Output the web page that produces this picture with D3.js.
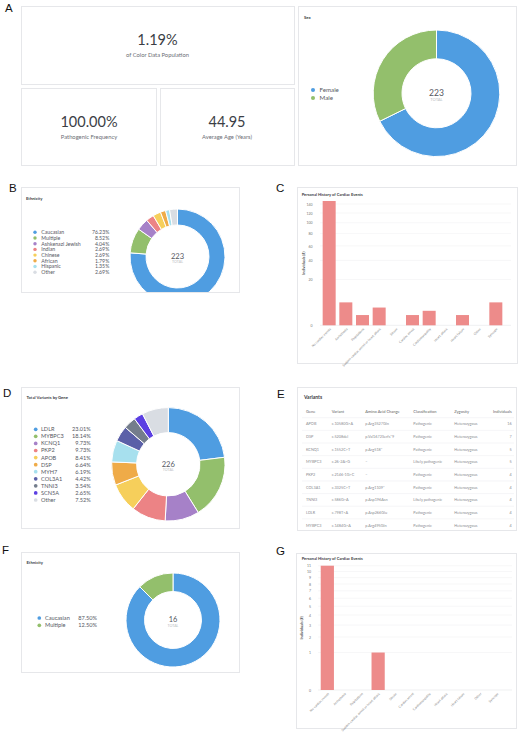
<!DOCTYPE html>
<html><head><meta charset="utf-8">
<script src="https://cdn.jsdelivr.net/npm/d3@7"></script>
<style>body{margin:0;background:#fff} svg{display:block} text{font-family:Lato,"Open Sans",sans-serif}</style>
</head><body><svg id="c" width="520" height="732"></svg>
<script>
// ---------- data ----------
const statValues = ["1.19%", "100.00%", "44.95"];
const statLabels = ["of Color Data Population", "Pathogenic Frequency", "Average Age (Years)"];

const sexLabels = ["Female", "Male"];
const sexValues = [151, 72];

const ethLabels = ["Caucasian", "Multiple", "Ashkenazi Jewish", "Indian", "Chinese", "African", "Hispanic", "Other"];
const ethPct = [76.23, 8.52, 4.04, 2.69, 2.69, 1.79, 1.35, 2.69];

const geneLabels = ["LDLR", "MYBPC3", "KCNQ1", "PKP2", "APOB", "DSP", "MYH7", "COL3A1", "TNNI3", "SCN5A", "Other"];
const genePct = [23.01, 18.14, 9.73, 9.73, 8.41, 6.64, 6.19, 4.42, 3.54, 2.65, 7.52];

const subEthLabels = ["Caucasian", "Multiple"];
const subEthPct = [87.50, 12.50];

const eventCategories = ["No cardiac events", "Arrhythmia", "Palpitations", "Sudden cardiac arrest or heart attack", "Stroke",
  "Cardiac arrest", "Cardiomyopathy", "Heart attack", "Heart failure", "Other", "Syncope"];
const eventsAll = [147, 5, 1, 3, 0, 1, 2, 0, 1, 0, 5];
const eventsSub = [11, 0, 0, 1, 0, 0, 0, 0, 0, 0, 0];
const ticksAll = [0, 20, 40, 60, 80, 100, 120, 140];
const ticksSub = [0, 1, 2, 3, 4, 5, 6, 7, 8, 9, 10, 11];

const tableHeaders = ["Gene", "Variant", "Amino Acid Change", "Classification", "Zygosity", "Individuals"];
const varGenes = ["APOB", "DSP", "KCNQ1", "MYBPC3", "PKP2", "COL3A1", "TNNI3", "LDLR", "MYBPC3"];
const varNames = ["c.10580G>A", "c.5208del", "c.1552C>T", "c.26-2A>G", "c.2146-1G>C", "c.3325C>T", "c.586G>A", "c.798T>A", "c.1484G>A"];
const varAA = ["p.Arg3527Gln", "p.Val1672Serfs*9", "p.Arg518*", "–", "–", "p.Arg1109*", "p.Asp196Asn", "p.Asp266Glu", "p.Arg495Gln"];
const varClass = ["Pathogenic", "Pathogenic", "Pathogenic", "Likely pathogenic", "Pathogenic", "Pathogenic", "Likely pathogenic", "Pathogenic", "Pathogenic"];
const varZyg = ["Heterozygous", "Heterozygous", "Heterozygous", "Heterozygous", "Heterozygous", "Heterozygous", "Heterozygous", "Heterozygous", "Heterozygous"];
const varInd = [16, 7, 5, 5, 4, 4, 4, 4, 4];

const panelLetters = ["A", "B", "C", "D", "E", "F", "G"];

// ---------- styles ----------
const C = {blue:"#4f9de1", green:"#93bf6c", purple:"#a681c8", red:"#ec8385", yellow:"#f6cf5b", orange:"#efab48",
  cyan:"#a7e0ee", slate:"#5b60a8", gray:"#747d8c", violet:"#5b3fe2", light:"#d9dde3"};
const ethColors = [C.blue, C.green, C.purple, C.red, C.yellow, C.orange, C.cyan, C.light];
const geneColors = [C.blue, C.green, C.purple, C.red, C.yellow, C.orange, C.cyan, C.slate, C.gray, C.violet, C.light];
const sexColors = [C.blue, C.green];
const barColor = "#ed8b8a";

const svg = d3.select("#c");
const defs = svg.append("defs");

function box(x0, y0, x1, y1) {
  svg.append("rect").attr("x", x0 + 0.5).attr("y", y0 + 0.5).attr("width", x1 - x0).attr("height", y1 - y0)
    .attr("fill", "#fff").attr("stroke", "#e6e7ea").attr("stroke-width", 1);
}
function title(x, y, t, size) {
  svg.append("text").attr("x", x).attr("y", y).text(t).attr("font-size", size || 4.2)
    .attr("font-weight", 700).attr("fill", "#3a3d44");
}

// boxes
box(21, 6, 294, 84); box(21, 88, 156, 165); box(160, 88, 294, 165); box(298, 6, 516, 165);
box(21, 187, 239, 292); box(297, 187, 517, 363);
box(21, 387, 239, 528); box(297, 387, 516, 530);
box(21, 552, 239, 672); box(296, 553, 516, 728);

// letters
const letterPos = [[5, 12], [9, 192], [276, 192], [3, 397], [277, 398], [2, 554], [276, 555]];
panelLetters.forEach((l, i) => svg.append("text").attr("x", letterPos[i][0]).attr("y", letterPos[i][1]).text(l)
  .attr("font-size", 11.5).attr("fill", "#111").style("font-family", "'Liberation Sans',Arial,sans-serif"));

// stats
const statPos = [[157.5, 45, 56.5], [89, 126.5, 138.5], [227, 126.5, 138.5]];
statValues.forEach((v, i) => {
  svg.append("text").attr("x", statPos[i][0]).attr("y", statPos[i][1]).attr("text-anchor", "middle")
    .attr("font-size", 14.5).attr("fill", "#3b3e45").text(v);
  svg.append("text").attr("x", statPos[i][0]).attr("y", statPos[i][2]).attr("text-anchor", "middle")
    .attr("font-size", 5.8).attr("fill", "#6b6e75").text(statLabels[i]);
});

// donut helper
function donut(cx, cy, rO, rI, values, colors, total, numSize, clip) {
  const g = svg.append("g");
  if (clip) {
    const id = "clip" + Math.round(cx) + Math.round(cy);
    defs.append("clipPath").attr("id", id).append("rect").attr("x", clip[0]).attr("y", clip[1])
      .attr("width", clip[2] - clip[0]).attr("height", clip[3] - clip[1]);
    g.attr("clip-path", `url(#${id})`);
  }
  const pie = d3.pie().sort(null).value(d => d)(values);
  const arc = d3.arc().innerRadius(rI).outerRadius(rO);
  g.selectAll("path").data(pie).join("path").attr("transform", `translate(${cx},${cy})`)
    .attr("d", arc).attr("fill", (d, i) => colors[i]).attr("stroke", "#fff").attr("stroke-width", 1);
  svg.append("text").attr("x", cx).attr("y", cy + numSize * 0.3).attr("text-anchor", "middle")
    .attr("font-size", numSize).attr("fill", "#55585f").text(total);
  svg.append("text").attr("x", cx).attr("y", cy + numSize * 0.3 + numSize * 0.6).attr("text-anchor", "middle")
    .attr("font-size", numSize * 0.48).attr("fill", "#b8bbc0").text("TOTAL");
}
function legend(dotX, textX, pctX, y0, step, size, labels, colors, pcts) {
  labels.forEach((l, i) => {
    const y = y0 + i * step;
    svg.append("circle").attr("cx", dotX).attr("cy", y).attr("r", size * 0.33).attr("fill", colors[i]);
    svg.append("text").attr("x", textX).attr("y", y + size * 0.35).attr("font-size", size).attr("fill", "#55585f").text(l);
    if (pcts) svg.append("text").attr("x", pctX).attr("y", y + size * 0.35).attr("text-anchor", "end")
      .attr("font-size", size).attr("fill", "#55585f").text(pcts[i].toFixed(2) + "%");
  });
}

// A: Sex
title(304, 18.5, "Sex");
donut(436.5, 93.3, 63.3, 34.5, sexValues, sexColors, d3.sum(sexValues), 8.6);
legend(313, 319.5, null, 90, 8, 6.2, sexLabels, sexColors, null);

// B: Ethnicity
title(26, 200, "Ethnicity");
donut(177.5, 256.5, 47.5, 31.5, ethPct, ethColors, 223, 7.6, [21, 187, 239, 292]);
legend(35, 41.3, 109.3, 232.3, 5.7, 5.2, ethLabels, ethColors, ethPct);

// D: Total variants by gene
title(26.5, 398.5, "Total Variants by Gene");
donut(168.3, 464.3, 56.7, 31.7, genePct, geneColors, 226, 7.6);
legend(35.7, 41, 90.7, 429.3, 7.07, 5.6, geneLabels, geneColors, genePct);

// F: Ethnicity subset
title(26.5, 564, "Ethnicity");
donut(173, 620, 47, 28.5, subEthPct, sexColors, 16, 7.4);
legend(39.3, 45, 97, 618, 7.3, 5.6, subEthLabels, sexColors, subEthPct);

// bar chart helper
function bars(tl, ty, x0, x1, yBase, yTop, maxV, values, ticks, axX) {
  title(tl, ty, "Personal History of Cardiac Events", 4);
  const x = d3.scaleBand().domain(eventCategories).range([x0, x1]).paddingInner(0.22).paddingOuter(0.22);
  const y = d3.scaleSqrt().domain([0, maxV]).range([yBase, yTop]);
  const g = svg.append("g");
  g.selectAll("line.grid").data(ticks).join("line").attr("x1", x0 + 1).attr("x2", x1 + 5)
    .attr("y1", d => y(d)).attr("y2", d => y(d)).attr("stroke", d => d === 0 ? "#e4e5e8" : "#f1f2f4").attr("stroke-width", 0.6);
  const ax = g.append("g").attr("transform", `translate(${axX},0)`)
    .call(d3.axisLeft(y).tickValues(ticks).tickSize(0).tickPadding(0).tickFormat(d3.format("d")));
  ax.select(".domain").remove();
  ax.selectAll("text").attr("font-size", 3.5).attr("fill", "#777").style("font-family", "Lato,sans-serif");
  g.selectAll("rect.bar").data(values).join("rect").attr("x", (d, i) => x(eventCategories[i]))
    .attr("width", x.bandwidth()).attr("y", d => y(d)).attr("height", d => yBase - y(d)).attr("fill", barColor);
  eventCategories.forEach(c => {
    const cx = x(c) + x.bandwidth() / 2;
    g.append("text").attr("transform", `translate(${cx + 2},${yBase + 4}) rotate(-45)`).attr("text-anchor", "end")
      .attr("font-size", 3.3).attr("fill", "#888").text(c);
  });
  svg.append("text").attr("transform", `translate(${axX - 8},${(yBase + yTop) / 2}) rotate(-90)`)
    .attr("text-anchor", "middle").attr("font-size", 3.8).attr("font-weight", 700).attr("fill", "#555").text("Individuals (#)");
}
bars(301.7, 195.5, 319, 506, 325.3, 201, 147, eventsAll, ticksAll, 312.5);
bars(301.7, 560, 317, 507, 690, 565.7, 11, eventsSub, ticksSub, 311);

// E: table
title(304, 398.5, "Variants", 5);
const colX = [306, 331.7, 365.3, 413.3, 454.3, 511.7];
tableHeaders.forEach((h, i) => svg.append("text").attr("x", colX[i]).attr("y", 413)
  .attr("text-anchor", i === 5 ? "end" : "start").attr("font-size", 4).attr("fill", "#666").text(h));
const rowY0 = 424, rowStep = 12.65;
const cols = [varGenes, varNames, varAA, varClass, varZyg, varInd];
varGenes.forEach((_, r) => {
  const y = rowY0 + r * rowStep;
  svg.append("line").attr("x1", 302).attr("x2", 514).attr("y1", y - 6.3).attr("y2", y - 6.3)
    .attr("stroke", "#eeeff1").attr("stroke-width", 0.6);
  cols.forEach((col, i) => svg.append("text").attr("x", colX[i]).attr("y", y + 1.3)
    .attr("text-anchor", i === 5 ? "end" : "start").attr("font-size", 3.8).attr("fill", "#8a8c91").text(col[r]));
});
</script></body></html>
